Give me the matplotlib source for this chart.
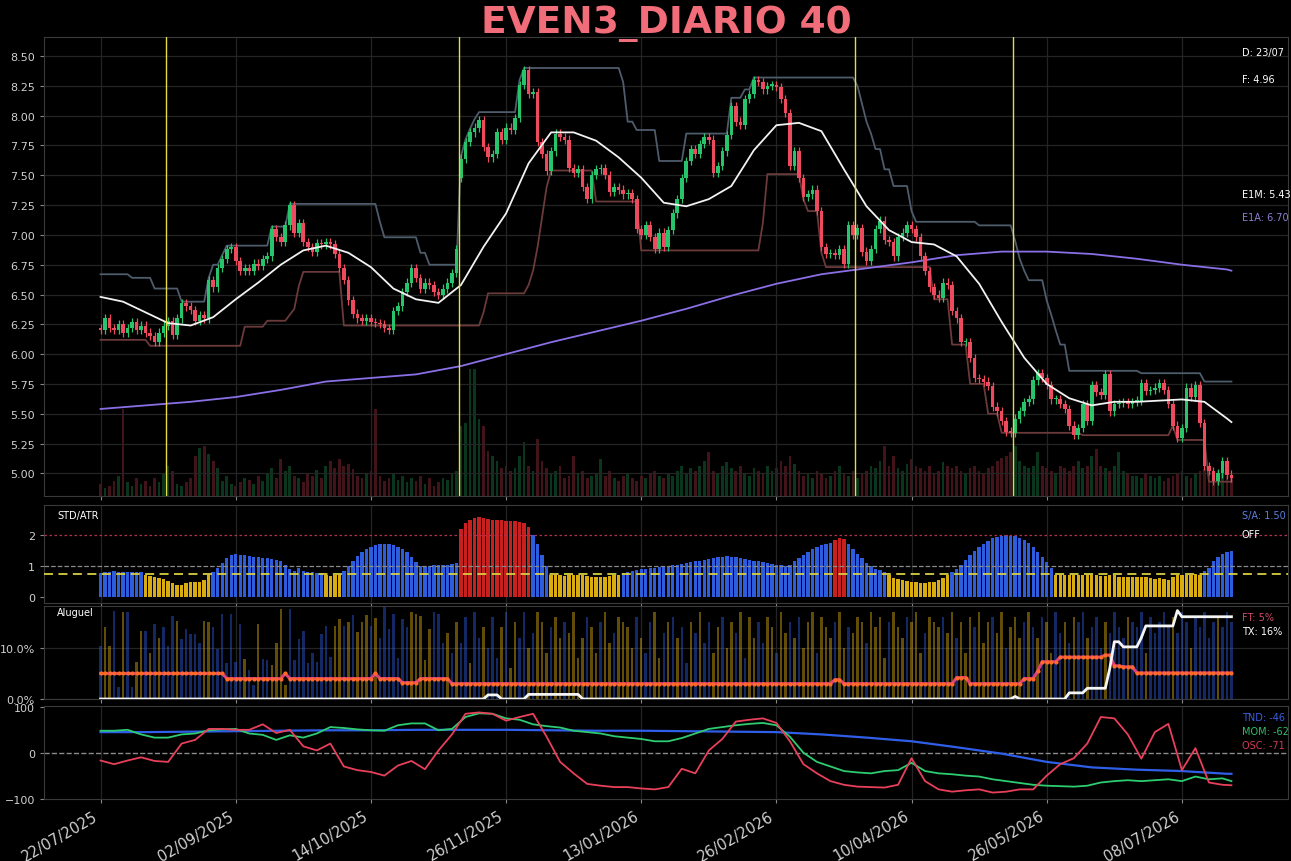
#!/usr/bin/env python3
"""Daily dashboard for EVEN3: candles + channel, STD/ATR, rental and oscillators."""

import matplotlib
matplotlib.use("Agg")
import matplotlib.pyplot as plt
import numpy as np
from matplotlib.ticker import FuncFormatter

# --------------------------------------------------------------------------- #
# Data (one value per trading day unless noted)
# --------------------------------------------------------------------------- #

TITLE = "EVEN3_DIARIO 40"
TICK_LABELS = ["22/07/2025", "02/09/2025", "14/10/2025", "26/11/2025",
               "13/01/2026", "26/02/2026", "10/04/2026", "26/05/2026",
               "08/07/2026"]
TICK_STEP = 30
LAST_DAY = "23/07"

CLOSE = [
    6.20, 6.30, 6.22, 6.20, 6.25, 6.18, 6.22, 6.27, 6.20, 6.24,
    6.18, 6.15, 6.10, 6.18, 6.24, 6.28, 6.16, 6.30, 6.43, 6.40,
    6.37, 6.28, 6.33, 6.30, 6.62, 6.56, 6.72, 6.80, 6.88, 6.90,
    6.78, 6.70, 6.72, 6.70, 6.76, 6.74, 6.80, 6.82, 7.05, 6.98,
    6.94, 7.08, 7.25, 7.02, 7.10, 6.94, 6.90, 6.86, 6.93, 6.92,
    6.94, 6.92, 6.84, 6.72, 6.62, 6.45, 6.34, 6.30, 6.28, 6.30,
    6.27, 6.26, 6.25, 6.22, 6.20, 6.36, 6.40, 6.52, 6.60, 6.72,
    6.64, 6.55, 6.60, 6.58, 6.52, 6.50, 6.55, 6.60, 6.68, 6.88,
    7.64, 7.78, 7.86, 7.90, 7.96, 7.74, 7.65, 7.68, 7.86, 7.80,
    7.90, 7.88, 7.98, 8.26, 8.38, 8.18, 8.20, 7.78, 7.68, 7.54,
    7.70, 7.85, 7.82, 7.80, 7.56, 7.52, 7.55, 7.40, 7.30, 7.50,
    7.55, 7.56, 7.50, 7.36, 7.40, 7.38, 7.34, 7.35, 7.30, 7.05,
    7.00, 7.08, 6.98, 6.88, 7.02, 6.90, 7.04, 7.18, 7.30, 7.48,
    7.62, 7.72, 7.68, 7.76, 7.82, 7.80, 7.52, 7.58, 7.70, 7.84,
    8.08, 7.95, 7.92, 8.14, 8.18, 8.30, 8.28, 8.22, 8.25, 8.26,
    8.24, 8.14, 8.02, 7.58, 7.70, 7.48, 7.32, 7.34, 7.38, 7.20,
    6.90, 6.84, 6.85, 6.83, 6.88, 6.76, 7.08, 7.00, 7.06, 6.86,
    6.78, 6.88, 7.05, 7.12, 6.96, 6.94, 6.82, 6.98, 7.02, 7.08,
    7.05, 6.98, 6.82, 6.70, 6.56, 6.50, 6.47, 6.60, 6.58, 6.36,
    6.30, 6.10, 6.10, 5.97, 5.80, 5.79, 5.77, 5.73, 5.56, 5.52,
    5.44, 5.35, 5.34, 5.46, 5.52, 5.60, 5.62, 5.78, 5.84, 5.80,
    5.74, 5.62, 5.62, 5.58, 5.54, 5.40, 5.32, 5.38, 5.58, 5.44,
    5.74, 5.68, 5.66, 5.83, 5.52, 5.58, 5.59, 5.60, 5.58, 5.60,
    5.61, 5.76, 5.69, 5.70, 5.72, 5.76, 5.70, 5.58, 5.40, 5.30,
    5.38, 5.72, 5.64, 5.74, 5.42, 5.06, 5.02, 4.94, 5.00, 5.10,
    4.99, 4.96,
]
# opens that do not equal the previous close (gaps)
GAP_OPENS = {0: 6.22, 80: 7.48}
WICK = 0.035

VOLUME = [
    12, 8, 10, 15, 20, 87, 14, 10, 18, 12,
    15, 10, 18, 14, 22, 30, 25, 12, 10, 14,
    18, 40, 48, 50, 42, 35, 28, 15, 20, 12,
    10, 14, 18, 16, 12, 20, 15, 22, 28, 18,
    37, 25, 30, 20, 18, 14, 22, 20, 26, 18,
    30, 35, 28, 37, 30, 32, 27, 20, 18, 22,
    25, 87, 20, 15, 18, 22, 16, 20, 14, 18,
    15, 20, 12, 18, 10, 14, 18, 16, 22, 25,
    70, 73, 127, 127, 77, 70, 45, 40, 35, 28,
    30, 25, 28, 40, 54, 30, 25, 57, 35, 28,
    22, 25, 30, 18, 20, 40, 22, 25, 18, 20,
    22, 37, 20, 25, 18, 15, 20, 22, 18, 15,
    20, 18, 22, 25, 20, 18, 22, 20, 25, 30,
    22, 28, 25, 30, 35, 44, 25, 22, 30, 34,
    28, 25, 30, 22, 20, 28, 25, 22, 30, 25,
    28, 35, 30, 40, 32, 25, 20, 22, 18, 25,
    22, 18, 20, 25, 30, 22, 20, 25, 18, 22,
    25, 30, 28, 35, 50, 30, 40, 28, 25, 32,
    37, 30, 28, 25, 30, 22, 25, 34, 30, 28,
    30, 25, 22, 28, 30, 25, 22, 28, 30, 35,
    38, 40, 44, 50, 35, 30, 28, 30, 44, 30,
    28, 25, 22, 30, 28, 25, 30, 35, 28, 30,
    40, 47, 30, 28, 25, 30, 44, 25, 22, 20,
    20, 18, 22, 20, 18, 20, 15, 18, 20, 22,
    25, 20, 18, 22, 25, 27, 22, 20, 25, 22,
    20, 18,
]

# short EMA, sampled every 5 days (+ last day)
E1M = [6.48, 6.44, 6.35, 6.26, 6.24, 6.31, 6.46, 6.60, 6.75, 6.87,
       6.91, 6.85, 6.73, 6.55, 6.46, 6.43, 6.58, 6.90, 7.18, 7.60,
       7.86, 7.86, 7.79, 7.65, 7.48, 7.27, 7.24, 7.30, 7.41, 7.71,
       7.92, 7.94, 7.87, 7.55, 7.24, 7.04, 6.94, 6.92, 6.82, 6.59,
       6.27, 5.97, 5.75, 5.63, 5.57, 5.60, 5.60, 5.61, 5.62, 5.60,
       5.46, 5.43]
E1M_STEP = 5
# long EMA, sampled every 10 days (+ last day)
E1A = [5.54, 5.57, 5.60, 5.64, 5.70, 5.77, 5.80, 5.83, 5.90, 6.00,
       6.10, 6.19, 6.28, 6.38, 6.49, 6.59, 6.67, 6.72, 6.77, 6.83,
       6.86, 6.86, 6.84, 6.80, 6.75, 6.71, 6.70]
E1A_STEP = 10

# channel lines as (level, number of days)
UPPER_LEVELS = [6.67, 6.64, 6.55, 6.44, 6.64, 6.75, 6.83, 6.91, 7.07, 7.26,
                7.11, 6.98, 6.85, 6.75, 7.66, 7.80, 7.89, 7.97, 8.03, 8.30,
                8.40, 8.28, 7.95, 7.88, 7.62, 7.85, 8.15, 8.22, 8.32, 8.25,
                8.10, 7.95, 7.85, 7.72, 7.55, 7.41, 7.20, 7.11, 7.08, 6.95,
                6.80, 6.70, 6.62, 6.45, 6.33, 6.20, 6.08, 5.86, 5.84, 5.77]
UPPER_DAYS = [7, 5, 6, 6, 1, 2, 1, 10, 4, 20,
              1, 8, 2, 7, 1, 1, 1, 1, 9, 1,
              22, 1, 2, 5, 6, 10, 3, 2, 23, 1,
              1, 1, 1, 2, 2, 4, 1, 14, 8, 1,
              1, 1, 4, 1, 1, 1, 2, 16, 14, 7]
LOWER_LEVELS = [6.12, 6.07, 6.23, 6.28, 6.33, 6.38, 6.57, 6.69, 6.24, 6.35,
                6.51, 6.58, 6.70, 6.90, 7.15, 7.40, 7.54, 7.28, 6.87, 7.10,
                7.51, 7.30, 7.20, 6.85, 6.73, 6.46, 6.08, 5.75, 5.50, 5.34,
                5.32, 5.40, 5.28, 4.93]
LOWER_DAYS = [11, 21, 5, 5, 1, 1, 1, 9, 31, 1,
              9, 1, 1, 1, 1, 1, 10, 10, 27, 1,
              8, 1, 3, 1, 24, 4, 4, 4, 3, 18,
              20, 1, 7, 6]

# marker lines sit between two sessions
EVENT_DAYS = [14.5, 79.5, 167.5, 202.5]

STD_ATR = [
    0.78, 0.80, 0.82, 0.84, 0.82, 0.80, 0.82, 0.82, 0.80, 0.80,
    0.72, 0.68, 0.66, 0.62, 0.58, 0.52, 0.44, 0.38, 0.40, 0.46,
    0.48, 0.50, 0.50, 0.55, 0.70,
    0.82, 0.95, 1.10, 1.25, 1.35, 1.38, 1.36, 1.35, 1.33, 1.30,
    1.28, 1.25, 1.26, 1.22, 1.20, 1.15, 1.05, 0.92, 0.85, 0.95,
    0.85, 0.82, 0.80, 0.78, 0.78,
    0.72, 0.68, 0.70, 0.72,
    0.85, 1.00, 1.18, 1.32, 1.45, 1.55, 1.62, 1.68, 1.72, 1.72,
    1.70, 1.68, 1.62, 1.55, 1.45, 1.30, 1.12, 1.00, 0.98, 1.00,
    1.02, 1.04, 1.05, 1.04, 1.06, 1.10,
    2.20, 2.40, 2.50, 2.55, 2.58, 2.55, 2.52, 2.50, 2.50, 2.48,
    2.46, 2.45, 2.45, 2.42, 2.38, 2.25,
    2.00, 1.70, 1.35, 1.00,
    0.72, 0.70, 0.70, 0.68, 0.70, 0.70, 0.72, 0.70, 0.68, 0.66,
    0.66, 0.64, 0.66, 0.68, 0.70, 0.72,
    0.78, 0.82, 0.85, 0.88, 0.90, 0.92, 0.95, 0.95, 0.98, 1.00,
    1.00, 1.02, 1.05, 1.08, 1.10, 1.12, 1.15, 1.18, 1.20, 1.22,
    1.25, 1.28, 1.30, 1.32, 1.30,
    1.28, 1.25, 1.22, 1.20, 1.18, 1.15, 1.12, 1.10, 1.08, 1.05,
    1.02, 1.00, 1.05, 1.15, 1.25, 1.35, 1.45, 1.55, 1.62, 1.68,
    1.72, 1.75,
    1.85, 1.90, 1.88,
    1.70, 1.55, 1.40, 1.25, 1.10, 1.00, 0.92, 0.86, 0.80,
    0.70, 0.62, 0.58, 0.55, 0.52, 0.50, 0.48, 0.46, 0.46, 0.48,
    0.50, 0.55, 0.62, 0.70,
    0.80, 0.92, 1.05, 1.20, 1.35, 1.50, 1.62, 1.72, 1.82, 1.90,
    1.95, 1.98, 2.00, 1.98, 1.96, 1.92, 1.85, 1.75, 1.62, 1.45,
    1.28, 1.12, 0.95,
    0.72, 0.72, 0.70, 0.70, 0.72, 0.70, 0.70, 0.72, 0.70, 0.70,
    0.68, 0.68, 0.70, 0.70, 0.66, 0.66, 0.64, 0.66, 0.66, 0.66,
    0.64, 0.62, 0.60, 0.62, 0.58, 0.56, 0.64, 0.70, 0.72, 0.72,
    0.70, 0.74, 0.72,
    0.85, 0.95, 1.15, 1.30, 1.38, 1.45, 1.50,
]
STD_RED_SPANS = [(80, 95), (163, 165)]
STD_LOW, STD_MID, STD_HIGH = 0.75, 1.0, 2.0

# rental bars (% of free float) and their colour code (b = blue, y = yellow)
ALUGUEL = [
    10.3, 14.0, 10.3, 17.3, 2.3, 17.0, 17.0, 2.3, 7.3, 13.3,
    13.3, 9.0, 14.7, 12.0, 14.0, 10.3, 16.3, 15.3, 11.7, 13.7,
    12.7, 12.7, 11.0, 15.3, 15.0, 14.0, 9.7, 16.7, 7.0, 16.7,
    7.3, 14.7, 7.8, 5.7, 2.7, 14.7, 7.8, 7.7, 6.7, 10.9,
    17.7, 2.7, 17.7, 7.7, 11.7, 13.3, 7.0, 9.0, 7.3, 12.7,
    14.3, 8.3, 14.3, 15.7, 14.3, 15.1, 16.5, 13.1, 15.1, 16.5,
    14.3, 15.8, 12.0, 18.0, 13.7, 16.7, 8.0, 15.7, 14.0, 17.0,
    16.7, 16.3, 7.7, 13.7, 17.0, 16.7, 11.0,
    13, 9, 15, 11, 16, 7, 17, 12, 14, 10,
    16, 8, 14, 17, 6, 15, 12, 17, 10, 13,
    17, 15, 9, 14, 16, 12, 15, 13, 17, 8,
    12, 16, 14, 9, 15, 17, 11, 13, 16, 15,
    14, 10, 16, 12, 9, 15, 17, 8, 13, 15,
    16, 12, 14, 7, 15, 13, 17, 11, 15, 9,
    14, 16, 10, 15, 13, 17, 8, 16, 12, 15,
    11, 16, 14, 9, 17, 13, 15, 12, 16, 10,
    15, 17, 9, 16, 14, 12, 15, 17, 10, 14,
    13, 16, 15, 11, 17, 14, 16, 8, 15, 17,
    14, 12, 16, 15, 17, 9, 13, 16, 15, 14,
    16, 13, 17, 12, 15, 9, 16, 14, 17, 11,
    15, 16, 13, 17, 10, 14, 16, 12, 15, 17,
    14, 12, 16, 15, 9, 17, 13, 15, 11, 16,
    15, 17, 12, 14, 16, 10, 15, 13, 17, 14,
    12, 16, 15, 14, 17, 9, 16, 13, 15, 17,
    14, 16, 13, 17, 15, 10, 16, 14, 17, 12,
    15, 16, 14, 17, 15,
]
ALUGUEL_COLOR = (
    "byybbybbyy" "bybybbbybb" "bbbyybbbbb" "bbybbybbyy" "yybbbbbbbb"
    "bbyybybyyy" "bybbbbbbby" "yyyybbb"
    "ybybbybbyb" "bbybyybbyb" "yyybyybyyy" "ybyybyybyy" "yybybbyyby"
    "bybbybybby" "ybyybybyyb" "byybyybyby" "yybyyybyyb" "yyybyyyyby"
    "yybyyybyyy" "byybyyybyy" "ybyybyyyby" "bybyybbyby" "bbybbbybbb"
    "bybbbybbbb" "bybbbybbbb" "bybbb"
)
# rental lines as (level %, number of days)
FT_LEVELS = [5.0, 4.0, 5.0, 4.0, 5.0, 4.0, 3.2, 4.0, 3.0, 3.8,
             3.0, 4.2, 3.0, 4.0, 5.5, 7.3, 8.2, 8.6, 6.5, 6.3, 5.1]
FT_DAYS = [28, 13, 1, 19, 1, 5, 4, 7, 85, 2,
           25, 3, 12, 3, 1, 4, 10, 2, 2, 3, 22]
TX_LEVELS = [0.0, 0.8, 0.0, 0.9, 0.0, 0.5, 0.0, 1.2, 2.1, 6.0,
             11.2, 10.2, 12.0, 14.3, 17.3, 16.1]
TX_DAYS = [86, 3, 6, 12, 96, 1, 11, 4, 5, 1,
           2, 4, 1, 7, 1, 12]

# oscillators: TND every 10 days, MOM / OSC every 3 days (+ last day)
TND = [45, 45, 46, 47, 48, 49, 49, 50, 50, 50,
       49, 48, 48, 47, 46, 45, 40, 33, 25, 12,
       -2, -20, -32, -37, -40, -46, -46]
TND_STEP = 10
MOM = [48, 48, 50, 40, 33, 33, 40, 42, 49, 51,
       52, 42, 39, 28, 38, 33, 42, 56, 54, 51,
       49, 48, 60, 64, 64, 49, 52, 78, 86, 85,
       75, 72, 62, 58, 55, 48, 45, 42, 36, 33,
       30, 25, 25, 32, 42, 52, 56, 60, 63, 65,
       60, 35, 0, -20, -30, -40, -43, -45, -40, -38,
       -22, -40, -45, -47, -50, -52, -58, -62, -66, -70,
       -72, -73, -74, -72, -65, -62, -60, -62, -60, -58,
       -62, -52, -58, -56, -62]
OSC = [-17, -25, -17, -10, -18, -20, 20, 28, 52, 52,
       50, 50, 62, 43, 50, 14, 5, 20, -30, -38,
       -42, -50, -28, -18, -36, 5, 40, 85, 88, 85,
       70, 78, 85, 35, -20, -45, -68, -72, -75, -75,
       -78, -80, -75, -35, -45, 5, 30, 68, 72, 75,
       65, 25, -25, -45, -62, -70, -74, -75, -76, -70,
       -12, -62, -80, -85, -82, -80, -87, -85, -80, -80,
       -50, -25, -12, 20, 78, 75, 40, -13, 45, 63,
       -38, 10, -65, -70, -71]
OSC_STEP = 3

# --------------------------------------------------------------------------- #
# Colours
# --------------------------------------------------------------------------- #

BG = "black"
GRID = "#242424"
SPINE = "#3a3a3a"
TXT = "#d0d0d0"
UP_C, DN_C = "#27c46c", "#ee4a5e"
BLUE, YELLOW, RED = "#2d5ddc", "#d9ac12", "#c8201f"


def sampled_x(n, step):
    return np.r_[np.arange(0, n - 1, step), n - 1]


def style(ax):
    ax.set_facecolor(BG)
    for s in ax.spines.values():
        s.set_color(SPINE)
    ax.tick_params(colors="#888888", labelcolor=TXT, labelsize=8,
                   length=3)
    ax.grid(True, color=GRID, linewidth=0.9)
    ax.set_axisbelow(True)


def note(ax, y, text, color="white", x=0.963):
    ax.text(x, y, text, transform=ax.transAxes, color=color, fontsize=7,
            va="center", ha="left")


# --------------------------------------------------------------------------- #
# Figure
# --------------------------------------------------------------------------- #

n = len(CLOSE)
x = np.arange(n)
close = np.array(CLOSE)
opn = np.r_[close[0], close[:-1]]
for k, v in GAP_OPENS.items():
    opn[k] = v
up = close >= opn
hi = np.maximum(opn, close) + WICK
lo = np.minimum(opn, close) - WICK
candle_c = np.where(up, UP_C, DN_C)

W_PX, H_PX = 1291, 862
fig = plt.figure(figsize=(W_PX / 100, H_PX / 100), dpi=100, facecolor=BG)
LEFT, RIGHT = 44, 1288


def box(top, bottom):
    return [LEFT / W_PX, 1 - bottom / H_PX, (RIGHT - LEFT) / W_PX,
            (bottom - top) / H_PX]


ax = fig.add_axes(box(38, 497))
ax_s = fig.add_axes(box(506, 604), sharex=ax)
ax_a = fig.add_axes(box(607, 700), sharex=ax)
ax_o = fig.add_axes(box(707, 800), sharex=ax)
for a in (ax, ax_s, ax_a, ax_o):
    style(a)

# volume behind the price
axv = ax.twinx()
axv.set_facecolor(BG)
axv.bar(x, VOLUME, width=0.6, color=candle_c, alpha=0.28, linewidth=0)
axv.set_ylim(0, 459)
axv.set_yticks([])
for s in axv.spines.values():
    s.set_visible(False)
ax.set_zorder(axv.get_zorder() + 1)
ax.patch.set_visible(False)

# channel, EMAs, candles
ax.plot(x, np.repeat(UPPER_LEVELS, UPPER_DAYS), color="#4e5c6c", lw=1.3,
        zorder=2)
ax.plot(x, np.repeat(LOWER_LEVELS, LOWER_DAYS), color="#6b3a3a", lw=1.3,
        zorder=2)
ax.plot(sampled_x(n, E1A_STEP), E1A, color="#8b6fe6", lw=1.3, zorder=2)
ax.vlines(x, lo, hi, colors=candle_c, lw=0.9, zorder=3)
ax.bar(x, np.maximum(np.abs(close - opn), 0.012), bottom=np.minimum(opn, close),
       width=0.8, color=candle_c, linewidth=0, zorder=3)
ax.plot(sampled_x(n, E1M_STEP), E1M, color="#f2f2f2", lw=1.3, zorder=4)
for d in EVENT_DAYS:
    ax.axvline(d, color="#e6dc4a", lw=1.0, zorder=5)

ax.set_ylim(4.81, 8.66)
ax.set_yticks(np.arange(5.0, 8.51, 0.25))
ax.yaxis.set_major_formatter(FuncFormatter(lambda v, _: f"{v:.2f}"))
note(ax, 0.967, f"D: {LAST_DAY}")
note(ax, 0.908, f"F: {CLOSE[-1]:.2f}")
note(ax, 0.658, f"E1M: {E1M[-1]:.2f}")
note(ax, 0.608, f"E1A: {E1A[-1]:.2f}", color="#8f7fcf")

# STD / ATR
std = np.array(STD_ATR)
std_c = np.where(std < STD_LOW, YELLOW, BLUE).astype(object)
for a0, a1 in STD_RED_SPANS:
    std_c[a0:a1 + 1] = RED
ax_s.bar(x, std, width=0.75, color=list(std_c), linewidth=0, zorder=2)
ax_s.axhline(STD_HIGH, color="#b03050", lw=0.9, ls=(0, (2, 2)), zorder=3)
ax_s.axhline(STD_MID, color="#8a8a8a", lw=0.9, ls="--", zorder=3)
ax_s.axhline(STD_LOW, color="#d8d040", lw=1.3, ls=(0, (5, 3)), zorder=3)
ax_s.set_ylim(-0.19, 2.97)
ax_s.set_yticks([0, 1, 2])
ax_s.grid(axis="y", visible=False)
ax_s.text(0.0105, 0.898, "STD/ATR", transform=ax_s.transAxes, color="white",
          fontsize=7, va="center")
note(ax_s, 0.898, f"S/A: {STD_ATR[-1]:.2f}", color="#5a7fe0")
note(ax_s, 0.704, "OFF")

# rental
alug_c = [BLUE if c == "b" else YELLOW for c in ALUGUEL_COLOR]
ax_a.bar(x, ALUGUEL, width=0.55, color=alug_c, alpha=0.45, linewidth=0,
         zorder=2)
ft = np.repeat(FT_LEVELS, FT_DAYS)
tx = np.repeat(TX_LEVELS, TX_DAYS)
ax_a.plot(x, ft, color="#e0407a", lw=2.2, zorder=3)
ax_a.plot(x, ft, ls="none", marker="o", ms=3.0, mew=0, color="#ff6a2a",
          zorder=4)
ax_a.plot(x, tx, color="#f5f5f5", lw=2.0, zorder=4)
ax_a.set_ylim(0, 18.2)
ax_a.set_yticks([0, 10])
ax_a.yaxis.set_major_formatter(FuncFormatter(lambda v, _: f"{v:.1f}%"))
ax_a.text(0.0105, 0.935, "Aluguel", transform=ax_a.transAxes, color="white",
          fontsize=7, va="center")
note(ax_a, 0.882, f"FT: {FT_LEVELS[-1]:.0f}%", color="#d04a6a")
note(ax_a, 0.731, f"TX: {TX_LEVELS[-1]:.0f}%")

# oscillators
ax_o.axhline(0, color="#8a8a8a", lw=1.0, ls="--", zorder=2)
ax_o.plot(sampled_x(n, TND_STEP), TND, color="#2f5fe8", lw=1.6, zorder=3)
ax_o.plot(sampled_x(n, OSC_STEP), MOM, color="#2ecc71", lw=1.3, zorder=3)
ax_o.plot(sampled_x(n, OSC_STEP), OSC, color="#e8405a", lw=1.3, zorder=4)
ax_o.set_ylim(-101, 102)
ax_o.set_yticks([-100, 0, 100])
ax_o.grid(axis="y", visible=False)
note(ax_o, 0.882, f"TND: {TND[-1]}", color="#3a5ee0")
note(ax_o, 0.731, f"MOM: {MOM[-1]}", color="#2fbf6a")
note(ax_o, 0.581, f"OSC: {OSC[-1]}", color="#d03a55")

# shared x axis
ticks = np.arange(0, n, TICK_STEP)[:len(TICK_LABELS)]
ax_o.set_xticks(ticks)
ax_o.set_xticklabels(TICK_LABELS, rotation=30, ha="right", fontsize=10.5,
                     color=TXT)
for a in (ax, ax_s, ax_a):
    a.tick_params(labelbottom=False)
ax.set_xlim(-12.55, n - 1 + 12.55)

fig.text((LEFT + RIGHT) / 2 / W_PX, 1 - 33 / H_PX, TITLE, color="#f26d7a",
         fontsize=27, fontweight="bold", ha="center", va="baseline")

fig.savefig("out.png", dpi=100, facecolor=BG)
